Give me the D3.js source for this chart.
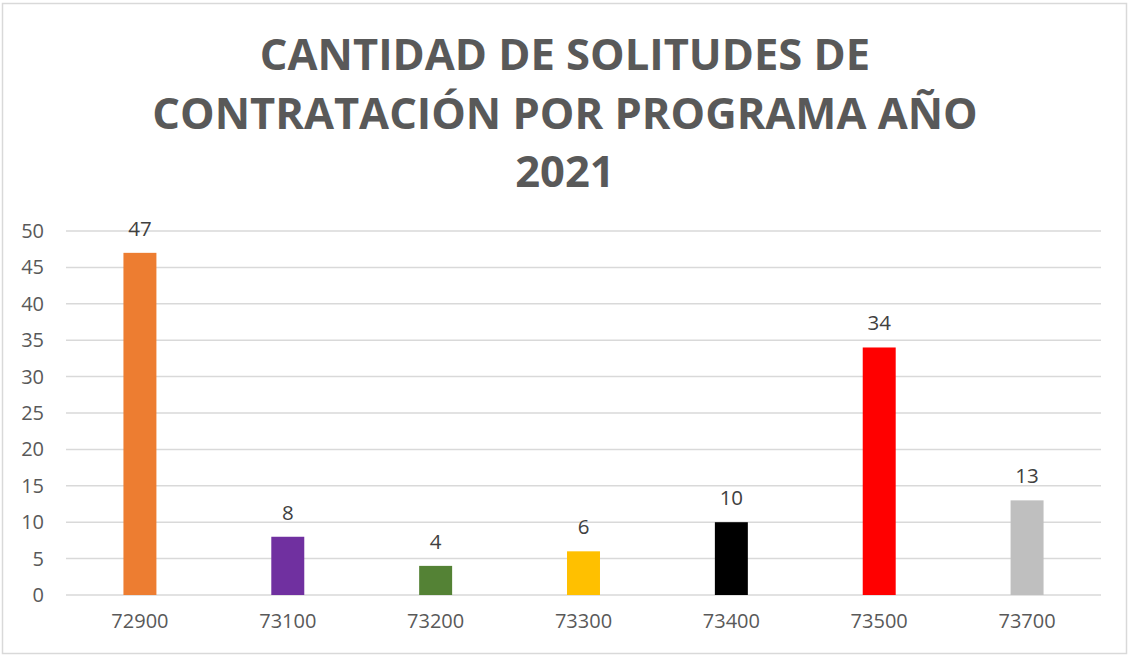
<!DOCTYPE html>
<html>
<head>
<meta charset="utf-8">
<script src="https://cdn.jsdelivr.net/npm/d3@7"></script>
<style>
    body { margin: 0; background: #fff; }
    text { font-family: "Open Sans", sans-serif; }
</style>
</head>
<body>
<div id="chart"></div>
<script>
// chart data
let programas = ["72900", "73100", "73200", "73300", "73400", "73500", "73700"];
let cantidades = [47, 8, 4, 6, 10, 34, 13];
let colores = ["#ED7D31", "#7030A0", "#548235", "#FFC000", "#000000", "#FF0000", "#BFBFBF"];
let yTicks = [0, 5, 10, 15, 20, 25, 30, 35, 40, 45, 50];
let tituloLineas = ["CANTIDAD DE SOLITUDES DE", "CONTRATACIÓN POR PROGRAMA AÑO", "2021"];

let width = 1129, height = 656;
let margin = {top: 231, right: 28, bottom: 61, left: 66};

let svg = d3.select("#chart").append("svg")
    .attr("width", width)
    .attr("height", height);

// outer border
svg.append("rect")
    .attr("x", 2.5).attr("y", 3.5)
    .attr("width", width - 5).attr("height", height - 6)
    .attr("fill", "#fff")
    .attr("stroke", "#d9d9d9")
    .attr("stroke-width", 1.5);

// title
svg.append("g").selectAll("text")
    .data(tituloLineas)
    .join("text")
    .attr("x", 565)
    .attr("y", (d, i) => 70 + i * 58.5)
    .attr("text-anchor", "middle")
    .attr("font-size", 43.5)
    .attr("font-weight", "bold")
    .attr("fill", "#595959")
    .text(d => d);

let g = svg.append("g")
    .attr("transform", "translate(" + margin.left + "," + margin.top + ")");

let w = width - margin.left - margin.right;
let h = height - margin.top - margin.bottom;

// scales
let x = d3.scaleBand().domain(programas).range([0, w]).paddingInner(0.777).paddingOuter(0.3885);
let y = d3.scaleLinear().domain([0, 50]).range([h, 0]);

// gridlines
g.append("g").selectAll("line")
    .data(yTicks)
    .join("line")
    .attr("x1", 0).attr("x2", w)
    .attr("y1", d => y(d)).attr("y2", d => y(d))
    .attr("stroke", "#d9d9d9")
    .attr("stroke-width", 1.5);

// y axis
let yAxis = g.append("g")
    .call(d3.axisLeft(y).tickValues(yTicks).tickSize(0).tickPadding(22));
yAxis.select(".domain").remove();
yAxis.selectAll("text")
    .attr("font-size", 20)
    .attr("fill", "#595959")
    .style("font-family", "'Open Sans', sans-serif");

// x axis
let xAxis = g.append("g")
    .attr("transform", "translate(0," + h + ")")
    .call(d3.axisBottom(x).tickSize(0).tickPadding(19));
xAxis.select(".domain").remove();
xAxis.selectAll("text")
    .attr("font-size", 20)
    .attr("fill", "#595959")
    .style("font-family", "'Open Sans', sans-serif");

// bars
g.append("g").selectAll("rect")
    .data(cantidades)
    .join("rect")
    .attr("x", (d, i) => x(programas[i]))
    .attr("y", d => y(d))
    .attr("width", x.bandwidth())
    .attr("height", d => h - y(d))
    .attr("fill", (d, i) => colores[i]);

// data labels
g.append("g").selectAll("text")
    .data(cantidades)
    .join("text")
    .attr("x", (d, i) => x(programas[i]) + x.bandwidth() / 2)
    .attr("y", d => y(d) - 17)
    .attr("text-anchor", "middle")
    .attr("font-size", 20.5)
    .attr("fill", "#404040")
    .text(d => d);
</script>
</body>
</html>
